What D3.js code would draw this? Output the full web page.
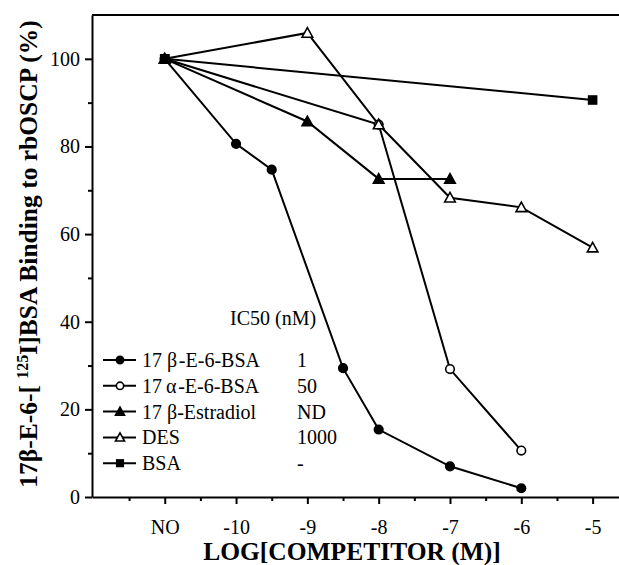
<!DOCTYPE html>
<html>
<head>
<meta charset="utf-8">
<script src="https://cdn.jsdelivr.net/npm/d3@7"></script>
<style>
  body { margin: 0; background: #fff; }
  svg { display: block; }
</style>
</head>
<body>
<div id="chart"></div>
<script>
// log concentrations; "NO" (no competitor) sits at -11
var xTicks = [-11, -10, -9, -8, -7, -6, -5];
var xTickLabels = ["NO", "-10", "-9", "-8", "-7", "-6", "-5"];
var yTicks = [0, 20, 40, 60, 80, 100];

var seriesNames = ["17 \u03b2\u200a-E-6-BSA", "17\u2009\u03b1\u200a-E-6-BSA", "17 \u03b2-Estradiol", "DES", "BSA"];
var ic50 = ["1", "50", "ND", "1000", "-"];
var markers = ["circleFilled", "circleOpen", "triFilled", "triOpen", "square"];

var betaE6BSA = [[-11, 100], [-10, 80.6], [-9.5, 74.7], [-8.5, 29.4], [-8, 15.4], [-7, 7], [-6, 2]];
var alphaE6BSA = [[-11, 100], [-8, 85], [-7, 29.2], [-6, 10.6]];
var betaEstradiol = [[-11, 100], [-9, 85.7], [-8, 72.6], [-7, 72.6]];
var des = [[-11, 100], [-9, 105.9], [-8, 85], [-7, 68.3], [-6, 66.1], [-5, 56.9]];
var bsa = [[-11, 100], [-5, 90.6]];

var allSeries = [betaE6BSA, alphaE6BSA, betaEstradiol, des, bsa];

var W = 619, H = 565;
var padL = 92, padT = 15, padR = 619, padB = 497;
var serif = "'Liberation Serif', 'Times New Roman', serif";

var svg = d3.select("#chart").append("svg")
  .attr("width", W)
  .attr("height", H)
  .style("font-family", serif);

var x = d3.scaleLinear().domain([-12.02, -4.63]).range([padL, padR]);
var y = d3.scaleLinear().domain([0, 110]).range([padB, padT]);

// top frame line
svg.append("line")
  .attr("x1", padL).attr("x2", padR)
  .attr("y1", padT).attr("y2", padT)
  .attr("stroke", "#000").attr("stroke-width", 2);

// y axis (major + minor ticks)
var yMinor = svg.append("g")
  .attr("transform", "translate(" + padL + ",0)")
  .call(d3.axisLeft(y).tickValues([10, 30, 50, 70, 90]).tickSize(4).tickFormat(""));
yMinor.select(".domain").remove();

var yAxis = svg.append("g")
  .attr("transform", "translate(" + padL + ",0)")
  .call(d3.axisLeft(y).tickValues(yTicks).tickSize(7).tickPadding(5).tickSizeOuter(0));

// x axis
var xMinor = svg.append("g")
  .attr("transform", "translate(0," + padB + ")")
  .call(d3.axisBottom(x).tickValues([-11.5, -10.5, -9.5, -8.5, -7.5, -6.5, -5.5]).tickSize(4).tickFormat(""));
xMinor.select(".domain").remove();

var xAxis = svg.append("g")
  .attr("transform", "translate(0," + padB + ")")
  .call(d3.axisBottom(x).tickValues(xTicks).tickSize(7).tickPadding(16).tickSizeOuter(0)
    .tickFormat(function (d, i) { return xTickLabels[i]; }));

svg.selectAll(".tick text")
  .attr("font-family", serif)
  .attr("font-size", 20);
svg.selectAll("g").attr("font-family", serif);
svg.selectAll(".domain, .tick line").attr("stroke", "#000").attr("stroke-width", 2);

// lines
var line = d3.line()
  .x(function (d) { return x(d[0]); })
  .y(function (d) { return y(d[1]); });

svg.selectAll(".series")
  .data(allSeries)
  .enter()
  .append("path")
  .attr("class", "series")
  .attr("d", line)
  .attr("fill", "none")
  .attr("stroke", "#000")
  .attr("stroke-width", 2);

// marker drawing
function drawMarker(g, type, cx, cy, k) {
  k = k || 1;
  if (type === "circleFilled" || type === "circleOpen") {
    g.append("circle")
      .attr("cx", cx).attr("cy", cy).attr("r", 4.3 * k)
      .attr("fill", type === "circleFilled" ? "#000" : "#fff")
      .attr("stroke", "#000").attr("stroke-width", 1.6);
  } else if (type === "triFilled" || type === "triOpen") {
    var s = 5.3 * k;
    g.append("path")
      .attr("d", "M" + cx + "," + (cy - s) + "L" + (cx + s) + "," + (cy + s * 0.8) + "L" + (cx - s) + "," + (cy + s * 0.8) + "Z")
      .attr("fill", type === "triFilled" ? "#000" : "#fff")
      .attr("stroke", "#000").attr("stroke-width", 1.6);
  } else {
    var h = 4.8 * k;
    g.append("rect")
      .attr("x", cx - h).attr("y", cy - h).attr("width", 2 * h).attr("height", 2 * h)
      .attr("fill", "#000");
  }
}

var markG = svg.append("g");
allSeries.forEach(function (s, i) {
  s.forEach(function (d) {
    drawMarker(markG, markers[i], x(d[0]), y(d[1]));
  });
});
// the square covers the shared starting point
drawMarker(markG, "square", x(bsa[0][0]), y(bsa[0][1]));

// legend
var leg = svg.append("g");
leg.append("text")
  .attr("x", 230).attr("y", 325)
  .style("font-size", "20px")
  .text("IC50 (nM)");

seriesNames.forEach(function (name, i) {
  var cy = 360 + i * 25.8;
  leg.append("line")
    .attr("x1", 103).attr("x2", 136)
    .attr("y1", cy).attr("y2", cy)
    .attr("stroke", "#000").attr("stroke-width", 2);
  drawMarker(leg, markers[i], 120, cy, 0.85);
  leg.append("text")
    .attr("x", 142).attr("y", cy + 7)
    .style("font-size", "20px")
    .text(name);
  leg.append("text")
    .attr("x", 297).attr("y", cy + 7)
    .style("font-size", "20px")
    .text(ic50[i]);
});

// axis titles
svg.append("text")
  .attr("x", 352).attr("y", 560)
  .attr("text-anchor", "middle")
  .style("font-size", "25.5px")
  .style("font-weight", "bold")
  .text("LOG[COMPETITOR (M)]");

var yt = svg.append("text")
  .attr("transform", "translate(37,254) rotate(-90)")
  .attr("text-anchor", "middle")
  .style("font-size", "25.5px")
  .style("font-weight", "bold");
yt.append("tspan").text("17\u03b2-E-6-[ ");
yt.append("tspan").attr("dy", -9).style("font-size", "16px").text("125");
yt.append("tspan").attr("dy", 9).text("I]BSA Binding to rbOSCP (%)");
</script>
</body>
</html>
